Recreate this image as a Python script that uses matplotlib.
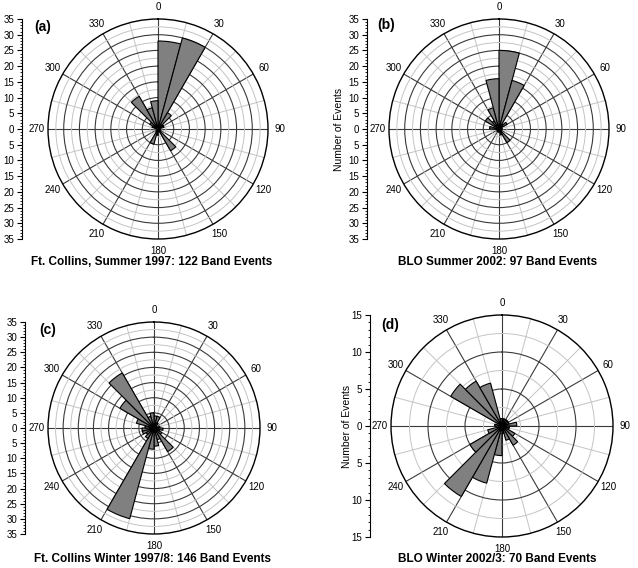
import numpy as np
import matplotlib.pyplot as plt
from matplotlib.ticker import FuncFormatter, MultipleLocator

plt.rcParams['font.family'] = ['Liberation Sans', 'DejaVu Sans']

W, H = 638, 568

# start angle of each 15 degree direction bin
bins = np.arange(0, 360, 15)

# number of band events per bin
fc_summer_1997 = [28, 30, 6, 2, 2, 0, 0, 1, 1, 8, 1, 1, 2, 5, 1, 0, 0, 0, 1, 2, 3, 12, 7, 9]
blo_summer_2002 = [25, 16, 2, 3, 1, 1, 1, 1, 1, 5, 2, 1, 1, 1, 1, 0, 0, 1, 3, 0, 5, 3, 7, 16]
fc_winter_1997 = [4, 4, 2, 1, 1, 2, 3, 2, 3, 9, 4, 6, 7, 31, 4, 3, 4, 4, 3, 6, 13, 21, 4, 5]
blo_winter_2002 = [1, 1, 1, 1, 1, 2, 1, 1, 2, 3, 2, 1, 4, 8, 11, 5, 2, 0, 1, 0, 8, 7, 6, 1]

fig = plt.figure(figsize=(W / 100, H / 100), dpi=100)


def rose(counts, center, radius, axis_x, rmax, letter, letter_xy, caption, caption_xy,
         ylabel_x=None):
    cx, cy = center
    bottom = (H - cy - radius) / H
    ax = fig.add_axes([(cx - radius) / W, bottom, 2 * radius / W, 2 * radius / H],
                      projection='polar')
    ax.set_theta_zero_location('N')
    ax.set_theta_direction(-1)
    ax.bar(np.deg2rad(bins), counts, width=np.deg2rad(15), align='edge',
           color='#808080', edgecolor='black', linewidth=0.8, zorder=2)
    ax.set_ylim(0, rmax)
    ax.set_xticks(np.deg2rad(np.arange(0, 360, 30)))
    ax.set_xticklabels([str(a) for a in range(0, 360, 30)], fontsize=7)
    ax.set_xticks(np.deg2rad(np.arange(15, 360, 30)), minor=True)
    ax.set_yticks(np.arange(5, rmax, 5))
    ax.set_yticks(np.arange(2.5, rmax, 5), minor=True)
    ax.set_yticklabels([])
    ax.grid(which='major', color='#3a3a3a', linewidth=0.8)
    ax.grid(which='minor', color='#c4c4c4', linewidth=0.7)
    ax.set_axisbelow(True)
    ax.tick_params(which='both', length=0)
    ax.tick_params(axis='x', pad=1.5)
    ax.spines['polar'].set_linewidth(1.0)

    # linear count scale on the left
    lax = fig.add_axes([axis_x / W, bottom, 0.001, 2 * radius / H])
    lax.set_ylim(-rmax, rmax)
    for s in ['top', 'right', 'bottom']:
        lax.spines[s].set_visible(False)
    lax.spines['left'].set_linewidth(0.8)
    lax.set_xticks([])
    lax.patch.set_visible(False)
    lax.yaxis.set_major_locator(MultipleLocator(5))
    lax.yaxis.set_minor_locator(MultipleLocator(1))
    lax.yaxis.set_major_formatter(FuncFormatter(lambda v, p: f'{abs(v):g}'))
    lax.tick_params(axis='y', which='major', labelsize=7, length=3.5, width=0.8, pad=2)
    lax.tick_params(axis='y', which='minor', length=1.8, width=0.6)

    fig.text(letter_xy[0] / W, 1 - letter_xy[1] / H, letter, fontsize=10,
             fontweight='bold', ha='center', va='center')
    fig.text(caption_xy[0] / W, 1 - caption_xy[1] / H, caption, fontsize=8.5,
             fontweight='bold', ha='center', va='center')
    if ylabel_x is not None:
        fig.text(ylabel_x / W, 1 - cy / H, 'Number of Events', fontsize=7.5,
                 rotation=90, ha='center', va='center')


rose(fc_summer_1997, (158, 129), 110, 22, 35, '(a)', (43, 27),
     'Ft. Collins, Summer 1997: 122 Band Events', (152, 262))
rose(blo_summer_2002, (499, 129), 110, 367, 35, '(b)', (386, 25),
     'BLO Summer 2002: 97 Band Events', (498, 262), ylabel_x=339)
rose(fc_winter_1997, (154, 428), 106, 25, 35, '(c)', (48, 330),
     'Ft. Collins Winter 1997/8: 146 Band Events', (153, 559.5))
rose(blo_winter_2002, (502, 426), 111, 370, 15, '(d)', (390, 325),
     'BLO Winter 2002/3: 70 Band Events', (497, 559.5), ylabel_x=347)

fig.savefig('out.png', dpi=100)
